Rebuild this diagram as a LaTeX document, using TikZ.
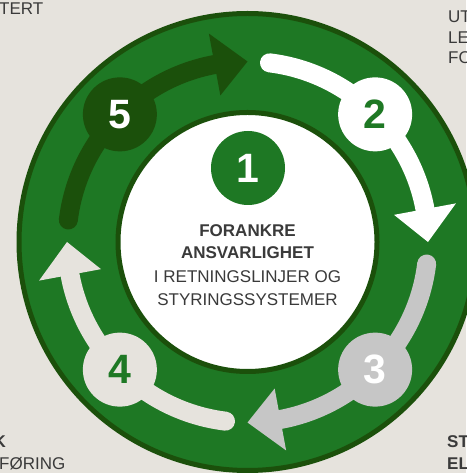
\documentclass[tikz,border=0pt]{standalone}
\usepackage{fontspec}
\usetikzlibrary{calc}
\setmainfont{Liberation Sans}
\definecolor{bg}{HTML}{E6E3DD}
\definecolor{grn}{HTML}{1E7824}
\definecolor{dgrn}{HTML}{1B500B}
\definecolor{gry}{HTML}{C6C6C6}
\definecolor{txt}{HTML}{3A3A3A}
\tikzset{
  shaft/.style={line width=19pt, line cap=round},
  stepnum/.style={circle, minimum size=74pt, inner sep=0pt, font=\fontsize{41}{41}\selectfont\bfseries},
  lbl/.style={font=\fontsize{17}{20}\selectfont, text=txt, inner sep=0pt, anchor=base},
  lblb/.style={lbl, font=\fontsize{17}{20}\selectfont\bfseries},
}
\newcommand{\Ra}{180.5pt}
\begin{document}
\begin{tikzpicture}[x=1pt,y=1pt]
\useasboundingbox (0,0) rectangle (466,473);
\fill[bg] (0,0) rectangle (466,473);
\coordinate (C) at (247.5,231);
% rings
\draw[dgrn, line width=5pt, fill=grn] (C) circle[radius=228.5pt];
\draw[dgrn, line width=5pt, fill=white] (C) circle[radius=129.5pt];
% arrow shafts (clockwise)
\draw[shaft, white] (C) ++(83:\Ra) coordinate (t2) arc[start angle=83, end angle=9.5, radius=\Ra];
\draw[shaft, gry] (C) ++(-7:\Ra) coordinate (t3) arc[start angle=-7, end angle=-80.5, radius=\Ra];
\draw[shaft, bg] (C) ++(-97:\Ra) coordinate (t4) arc[start angle=-97, end angle=-170.5, radius=\Ra];
\draw[shaft, dgrn] (C) ++(173:\Ra) coordinate (t5) arc[start angle=173, end angle=99.5, radius=\Ra];
% arrow heads
\fill[white] ($(C)+(0:\Ra)$) coordinate (h2) -- ($(C)+(10.5:149pt)$) -- ($(C)+(10.5:212pt)$) -- cycle;
\fill[gry] ($(C)+(-90:\Ra)$) coordinate (h3) -- ($(C)+(-79.5:149pt)$) -- ($(C)+(-79.5:212pt)$) -- cycle;
\fill[bg] ($(C)+(180:\Ra)$) coordinate (h4) -- ($(C)+(190.5:149pt)$) -- ($(C)+(190.5:212pt)$) -- cycle;
\fill[dgrn] ($(C)+(90:\Ra)$) coordinate (h5) -- ($(C)+(100.5:149pt)$) -- ($(C)+(100.5:212pt)$) -- cycle;
% step circles
\node[stepnum, fill=dgrn, text=white] (s5) at ($(C)+(135:\Ra)$) {5};
\node[stepnum, fill=white, text=grn] (s2) at ($(C)+(45:\Ra)$) {2};
\node[stepnum, fill=gry, text=white] (s3) at ($(C)+(-45:\Ra)$) {3};
\node[stepnum, fill=bg, text=grn] (s4) at ($(C)+(-135:\Ra)$) {4};
\node[stepnum, fill=grn, text=white] (s1) at (248,305) {1};
% centre text
\node[lblb] (c1) at (247.5,236) {FORANKRE};
\node[lblb] (c2) at (247.5,214) {ANSVARLIGHET};
\node[lbl] (c3) at (247.5,190) {I RETNINGSLINJER OG};
\node[lbl] (c4) at (247.5,167) {STYRINGSSYSTEMER};
% cropped corner texts
\node[lbl, anchor=base west] (tl) at (-1,458) {TERT};
\node[lbl, anchor=base west] (tr1) at (448,450) {UT};
\node[lbl, anchor=base west] (tr2) at (448,429) {LE};
\node[lbl, anchor=base west] (tr3) at (448,409) {FO};
\node[lblb, anchor=base east] (bl1) at (6,25) {K};
\node[lbl, anchor=base west] (bl2) at (-1,3) {FØRING};
\node[lblb, anchor=base west] (br1) at (447,25) {ST};
\node[lblb, anchor=base west] (br2) at (447,3) {EL};
\end{tikzpicture}
\end{document}
